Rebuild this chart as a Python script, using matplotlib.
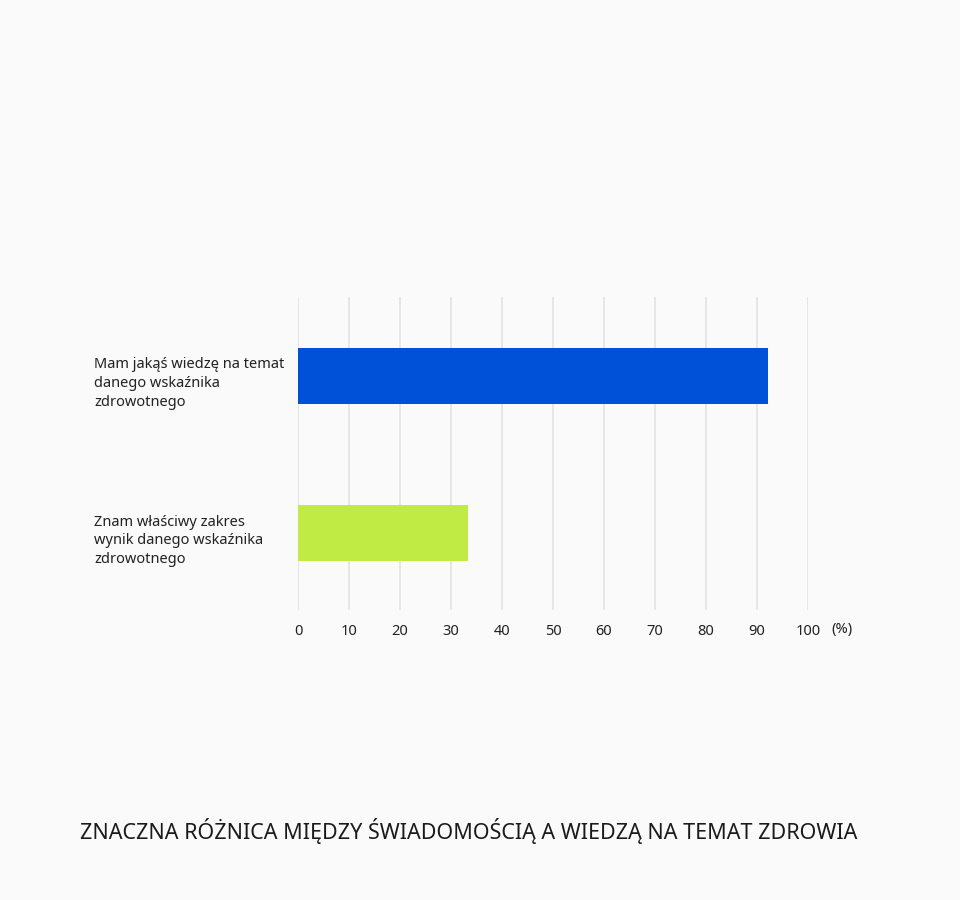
import matplotlib
matplotlib.use('Agg')
from matplotlib import pyplot as plt

# data
labels = ['Mam jakąś wiedzę na temat\ndanego wskaźnika\nzdrowotnego',
          'Znam właściwy zakres\nwynik danego wskaźnika\nzdrowotnego']
values = [92.2, 33.3]
colors = ['#0050d8', '#bfeb44']
ticks = [0, 10, 20, 30, 40, 50, 60, 70, 80, 90, 100]
title = 'ZNACZNA RÓŻNICA MIĘDZY ŚWIADOMOŚCIĄ A WIEDZĄ NA TEMAT ZDROWIA'

plt.rcParams['font.family'] = ['Noto Sans', 'DejaVu Sans']
bg = '#fafafa'

fig = plt.figure(figsize=(9.6, 9.0), dpi=100, facecolor=bg)
ax = fig.add_axes([298 / 960, 1 - 610 / 900, 510 / 960, 313 / 900])
ax.set_facecolor(bg)

pos = list(range(len(values)))
ax.barh(pos, values, height=0.357, color=colors, zorder=3)
ax.set_xlim(0, 100)
ax.set_ylim(1.49, -0.503)

ax.set_xticks(ticks)
ax.set_xticklabels([str(t) for t in ticks], fontsize=10.5, color='#222222')
ax.grid(axis='x', color='#e2e2e2', linewidth=1.2, zorder=0)
ax.tick_params(axis='x', length=0, pad=10)
ax.set_yticks([])
for s in ax.spines.values():
    s.set_visible(False)

# category labels, left aligned, sitting a bit below bar centre
for p, lab in zip(pos, labels):
    ax.text(-0.4, p + 0.05, lab, transform=ax.get_yaxis_transform(),
            ha='left', va='center', fontsize=10.5, color='#222222',
            linespacing=1.35)

ax.text(842 / 960, 1 - 629 / 900, '(%)', transform=fig.transFigure,
        ha='center', va='center', fontsize=10.5, color='#222222')

fig.text(469 / 960, 1 - 831 / 900, title, ha='center', va='center',
         fontsize=15.5, color='#1a1a1a')

fig.savefig('out.png', dpi=100, facecolor=bg)
